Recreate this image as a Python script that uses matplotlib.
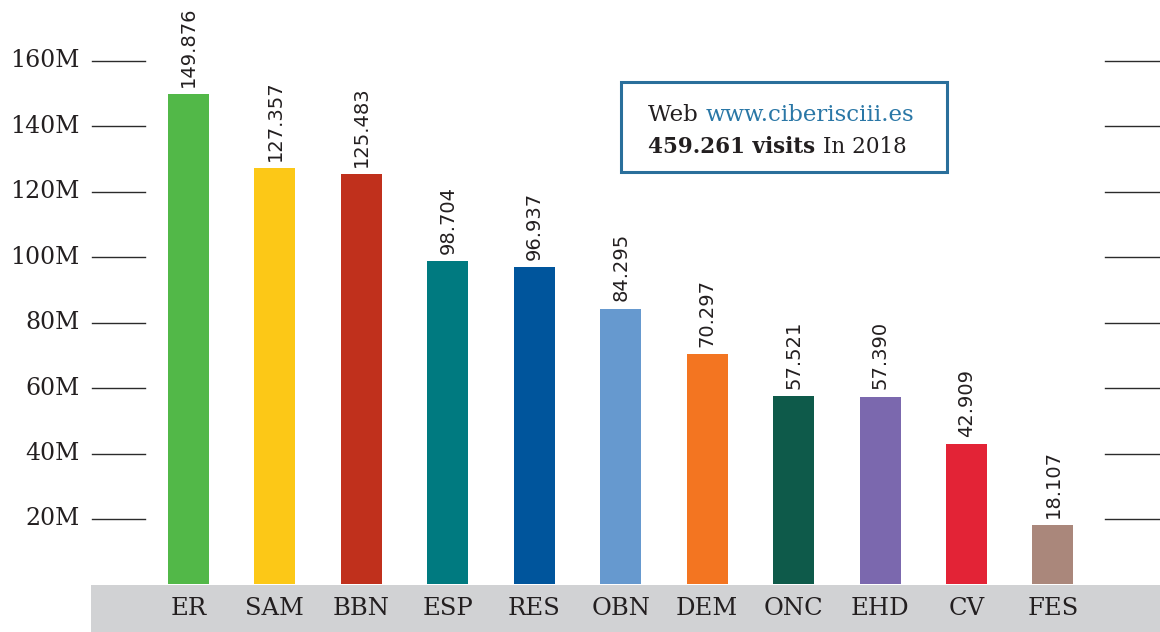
import matplotlib
matplotlib.use("Agg")
import matplotlib.pyplot as plt
from matplotlib.patches import Rectangle

categorias = ["ER", "SAM", "BBN", "ESP", "RES", "OBN", "DEM", "ONC", "EHD", "CV", "FES"]
valores = [149.876, 127.357, 125.483, 98.704, 96.937, 84.295, 70.297, 57.521, 57.390, 42.909, 18.107]
colores = ["#52b848", "#fcc817", "#c0301c", "#007a80", "#00559c", "#6699cf",
           "#f37521", "#0e5a4a", "#7b68ae", "#e32336", "#aa877b"]
ticks = [20, 40, 60, 80, 100, 120, 140, 160]
tick_labels = ["20M", "40M", "60M", "80M", "100M", "120M", "140M", "160M"]

serif = "DejaVu Serif"
oscuro = "#231f20"
azul = "#2a77a6"

fig = plt.figure(figsize=(11.6, 6.32), dpi=100)
ax = fig.add_axes([0, 0, 1, 1])
ax.axis("off")
ax.set_xlim(-2.180, 11.238)
ax.set_ylim(-14.55, 178.63)

# banda gris inferior
ax.add_patch(Rectangle((-1.128, -14.55), 12.5, 14.3, color="#d1d2d4", zorder=0, lw=0))

x = list(range(len(categorias)))
ax.bar(x, valores, width=0.474, color=colores, zorder=2)

for i, v in enumerate(valores):
    ax.text(i, v + 2.2, f"{v:.3f}", rotation=90, ha="center", va="bottom",
            fontsize=14, color=oscuro, family="DejaVu Sans")
    ax.text(i, -7.4, categorias[i], ha="center", va="center",
            fontsize=17.5, color=oscuro, family=serif)

# marcas del eje y a ambos lados
for t, lab in zip(ticks, tick_labels):
    ax.plot([-1.116, -0.503], [t, t], color="#2b2b2b", lw=1.0, zorder=1)
    ax.plot([10.60, 11.3], [t, t], color="#2b2b2b", lw=1.0, zorder=1)
    ax.text(-1.255, t, lab, ha="right", va="center", fontsize=17,
            color=oscuro, family=serif)

# recuadro con la nota
ax.add_patch(Rectangle((5.0, 126.2), 3.77, 27.5, fill=False, edgecolor="#2a6f9b",
                       lw=2.2, zorder=3))
t1 = ax.text(5.32, 143.5, "Web ", fontsize=16.5, color=oscuro, family=serif,
             va="center", ha="left")
ax.annotate("www.ciberisciii.es", xy=(1, 0), xycoords=t1, va="bottom", ha="left",
            fontsize=16.5, color=azul, family=serif)
t2 = ax.text(5.32, 133.6, "459.261 visits ", fontsize=15.5, color=oscuro, family=serif,
             weight="bold", va="center", ha="left")
ax.annotate("In 2018", xy=(1, 0), xycoords=t2, va="bottom", ha="left",
            fontsize=15.5, color=oscuro, family=serif)

fig.savefig("out.png", dpi=100)
